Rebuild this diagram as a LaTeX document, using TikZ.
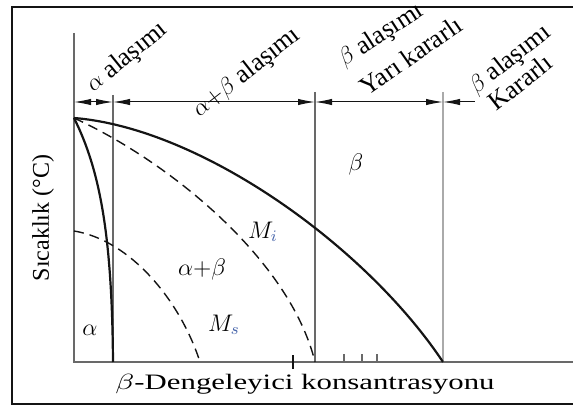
\documentclass[tikz,border=0pt]{standalone}
\usepackage{fontspec}
\setmainfont{Liberation Serif}
\usepackage{graphicx}
\usetikzlibrary{arrows.meta}
\definecolor{inkblack}{RGB}{20,20,20}
\definecolor{midgray}{RGB}{105,105,105}
\definecolor{palegray}{RGB}{170,170,170}
\definecolor{subblue}{RGB}{70,100,170}

\begin{document}
\begin{tikzpicture}[x=0.5pt, y=0.5pt, every node/.style={font=\fontsize{12}{17}\selectfont, inner sep=1pt},
  dimtip/.tip={Latex[length=8.5pt,width=3.2pt]},
  dimline/.style={draw=inkblack, line width=0.5pt},
  curve/.style={draw=inkblack, line width=1.1pt},
  dashcurve/.style={draw=inkblack, line width=0.7pt, dash pattern=on 5pt off 3pt},
  toplabel/.style={anchor=base west, inner sep=0pt, font=\fontsize{13}{17}\selectfont}]
            \useasboundingbox (0,0) rectangle (573,-406);
            % frame
            \draw[line width=1pt, inkblack] (573,-7) -- (12,-7) -- (12,-404) -- (573,-404);

            % axes
            \coordinate (origin) at (74,-362);
            \coordinate (ytop) at (74,-33);
            \coordinate (xend) at (573,-362);
            \draw[midgray, line width=0.8pt] (ytop) -- (origin) -- (xend);
            \foreach \tx in {344,362,377} \draw[midgray, line width=0.6pt] (\tx,-354) -- (\tx,-362);
            \draw[inkblack, line width=0.6pt] (293,-355) -- (293,-369);

            % phase borders
            \coordinate (d0) at (74,-102);
            \coordinate (d1) at (113,-102);
            \coordinate (d2) at (315,-102);
            \coordinate (d3) at (443,-102);
            \coordinate (d4) at (475,-102);
            \draw[midgray, line width=0.6pt] (113,-95) -- (113,-362);
            \draw[midgray, line width=1.1pt] (315,-92) -- (315,-362);
            \draw[palegray, line width=0.8pt] (443,-92) -- (443,-362);

            % dimension arrows
            \draw[dimline, dimtip-dimtip] (d0) -- (d1);
            \draw[dimline, dimtip-dimtip] (d1) -- (d2);
            \draw[dimline, dimtip-dimtip] (d2) -- (d3);
            \draw[dimline, dimtip-] (d3) -- (d4);

            % curves
            \coordinate (apex) at (74,-118);
            \draw[curve] (apex) .. controls (200,-128) and (365,-245) .. (443,-362);
            \draw[curve] (apex) .. controls (100,-170) and (112,-235) .. (113,-362);
            \draw[dashcurve] (apex) .. controls (170,-162) and (290,-260) .. (315,-362);
            \draw[dashcurve] (74,-231) .. controls (130,-240) and (180,-300) .. (200,-362);

            % region labels
            \node (alpha) at (90,-330) {$\alpha$};
            \node (alphabeta) at (202,-270) {$\alpha{+}\beta$};
            \node (beta) at (356,-165) {$\beta$};
            \node (mi) at (263,-232) {$M_{\textcolor{subblue}{i}}$};
            \node (ms) at (224,-325) {$M_{\textcolor{subblue}{s}}$};

            % alloy labels
            \node[toplabel, rotate=39] (lblalpha) at (93,-93) {$\alpha$ alaşımı};
            \node[toplabel, rotate=38] (lblab) at (199,-118) {$\alpha{+}\beta$ alaşımı};
            \node[toplabel, rotate=33] (lblmetaa) at (344,-67) {$\beta$ alaşımı};
            \node[toplabel, rotate=35] (lblmetab) at (367,-97) {Yarı kararlı};
            \node[toplabel, rotate=38] (lblstablea) at (476,-95) {$\beta$ alaşımı};
            \node[toplabel, rotate=38] (lblstableb) at (496,-112) {Kararlı};

            % axis titles
            \node[rotate=90] (ylabel) at (43,-218) {Sıcaklık (°C)};
            \node (xlabel) at (305,-384) {\scalebox{1.4}[1]{\fontsize{11}{13}\selectfont $\beta$-Dengeleyici konsantrasyonu}};
        \end{tikzpicture}
\end{document}
